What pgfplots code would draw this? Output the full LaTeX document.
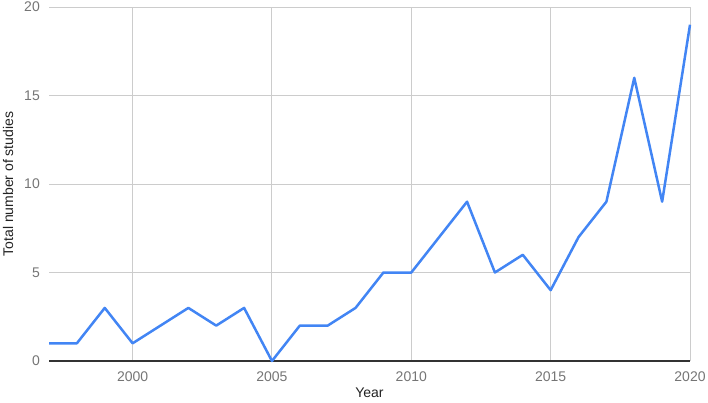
\documentclass[border=0pt]{standalone}
\usepackage{fontspec}
\setmainfont{Liberation Sans}
\usepackage{pgfplots}
\pgfplotsset{compat=1.18}
\definecolor{gline}{HTML}{4285F4}
\definecolor{gridc}{HTML}{CCCCCC}
\definecolor{tickc}{HTML}{757575}
\definecolor{titlec}{HTML}{222222}
\begin{document}
\begin{tikzpicture}[x=1pt,y=1pt]
\path[use as bounding box] (0,0) rectangle (708,402);
\begin{axis}[
  at={(49pt,41pt)}, anchor=south west,
  scale only axis, width=641pt, height=354pt,
  xmin=1997, xmax=2020, ymin=0, ymax=20,
  xtick={2000,2005,2010,2015,2020},
  ytick={0,5,10,15,20},
  axis line style={draw=none},
  major tick length=0pt,
  grid=major,
  major grid style={draw=gridc, line width=1pt},
  /pgf/number format/assume math mode=true,
  /pgf/number format/1000 sep={},
  tick label style={font=\fontsize{14}{16}\selectfont, text=tickc, inner sep=0pt},
  xticklabel style={anchor=north, yshift=-10.5pt},
  yticklabel style={anchor=east, xshift=-9pt},
  xlabel={Year},
  ylabel={Total number of studies},
  label style={font=\fontsize{14}{16}\selectfont, text=titlec, inner sep=0pt},
  xlabel style={at={(axis description cs:0.5,0)}, anchor=north, yshift=-27pt},
  ylabel style={at={(axis description cs:-0.0555,0.5)}, anchor=south, rotate=0},
  clip=false,
]
\addplot[draw=black!80, line width=1.5pt, forget plot] coordinates {(1997,0) (2020,0)};
\addplot[gline, line width=2.5pt, line join=round, mark=none] coordinates {
(1997,1) (1998,1) (1999,3) (2000,1) (2001,2) (2002,3) (2003,2) (2004,3)
(2005,0) (2006,2) (2007,2) (2008,3) (2009,5) (2010,5) (2011,7) (2012,9)
(2013,5) (2014,6) (2015,4) (2016,7) (2017,9) (2018,16) (2019,9) (2020,19)
};
\end{axis}
\end{tikzpicture}
\end{document}
